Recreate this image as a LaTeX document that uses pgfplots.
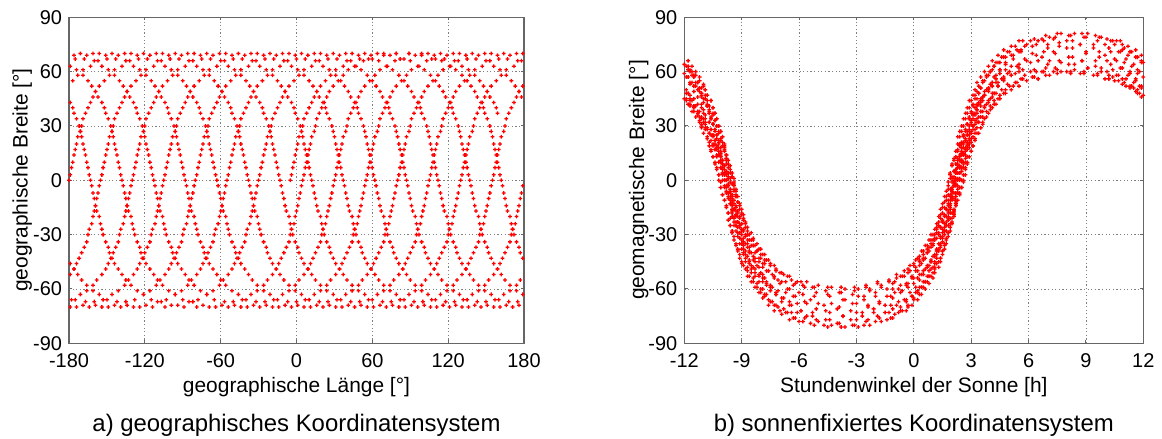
\documentclass[border=0pt]{standalone}
\usepackage{fontspec}
\setmainfont{Liberation Sans}
\usepackage{pgfplots}
\usepackage{pgfplotstable}
\pgfplotsset{compat=1.18}
\definecolor{mred}{RGB}{255,0,0}
\pgfdeclareplotmark{fplus}{%
  \pgfpathrectangle{\pgfpoint{-\pgfplotmarksize}{-0.32bp}}{\pgfpoint{2\pgfplotmarksize}{0.64bp}}%
  \pgfpathrectangle{\pgfpoint{-0.32bp}{-\pgfplotmarksize}}{\pgfpoint{0.64bp}{2\pgfplotmarksize}}%
  \pgfusepathqfill}
\pgfplotstableread{
lo la h m
-5 0 2.2 4
-4 3 2.3 7
-3 7 2.4 11
-2 10 2.5 14
-1 14 2.5 18
0 17 2.6 20
1 20 2.7 23
2 24 2.8 27
4 27 2.9 30
5 30 3 32
6 34 3.1 36
8 37 3.3 39
10 40 3.4 42
12 43 3.5 44
14 46 3.7 47
16 49 3.9 49
19 52 4.1 52
23 55 4.3 54
27 58 4.6 56
31 61 4.9 59
37 63 5.3 59
43 66 5.7 61
50 67 6.3 61
59 69 6.9 62
69 70 7.5 61
79 70 8.2 60
89 70 8.9 60
99 69 9.6 58
107 67 10.2 56
115 66 10.7 55
121 63 11.1 52
126 61 11.5 51
131 58 11.8 48
135 55 -11.9 45
138 52 -11.7 42
141 49 -11.5 40
143 46 -11.3 37
146 43 -11.1 34
148 40 -11 32
149 37 -10.9 29
151 34 -10.7 26
153 30 -10.6 22
154 27 -10.5 19
155 24 -10.4 17
156 20 -10.3 13
157 17 -10.2 10
158 14 -10.1 7
159 10 -10 3
160 7 -10 0
161 3 -9.9 -4
162 0 -9.8 -6
163 -3 -9.7 -9
164 -7 -9.6 -13
165 -10 -9.5 -16
166 -14 -9.5 -20
167 -17 -9.4 -23
169 -20 -9.3 -25
170 -24 -9.2 -29
171 -27 -9.1 -32
172 -30 -9 -35
174 -34 -8.9 -38
176 -37 -8.8 -41
177 -40 -8.6 -44
179 -43 -8.5 -47
-179 -46 -8.3 -49
-176 -49 -8.1 -52
-173 -52 -7.9 -54
-170 -55 -7.7 -57
-166 -58 -7.4 -59
-161 -61 -7.1 -61
-156 -63 -6.7 -62
-150 -66 -6.3 -64
-142 -67 -5.8 -63
-134 -69 -5.2 -64
-124 -70 -4.5 -63
-114 -70 -3.8 -62
-104 -70 -3.1 -61
-94 -69 -2.5 -59
-85 -67 -1.9 -56
-78 -66 -1.3 -55
-71 -63 -0.9 -52
-66 -61 -0.5 -50
-61 -58 -0.2 -47
-58 -55 0.1 -44
-54 -52 0.3 -42
-51 -49 0.5 -39
-49 -46 0.7 -36
-47 -43 0.9 -33
-45 -40 1 -30
-43 -37 1.2 -27
-41 -34 1.3 -25
-40 -30 1.4 -21
-39 -27 1.5 -18
-37 -24 1.6 -15
-36 -20 1.7 -11
-35 -17 1.8 -8
-34 -14 1.9 -5
-33 -10 2 -1
-32 -7 2 1
-31 -3 2.1 5
}\tA
\pgfplotstableread{
lo la h m
-30 0 2.4 8
-29 3 2.5 11
-28 7 2.6 15
-27 10 2.7 18
-26 14 2.7 22
-25 17 2.8 25
-24 20 2.9 27
-23 24 3 31
-21 27 3.1 34
-20 30 3.2 37
-19 34 3.3 41
-17 37 3.5 43
-15 40 3.6 46
-13 43 3.7 49
-11 46 3.9 51
-9 49 4.1 54
-6 52 4.3 56
-2 55 4.5 59
2 58 4.8 61
6 61 5.1 63
12 63 5.5 64
18 66 5.9 66
25 67 6.5 66
34 69 7.1 66
44 70 7.7 65
54 70 8.4 64
64 70 9.1 62
74 69 9.8 60
82 67 10.4 57
90 66 10.9 56
96 63 11.3 52
101 61 11.7 50
106 58 12 47
110 55 -11.7 44
113 52 -11.5 41
116 49 -11.3 38
118 46 -11.1 35
121 43 -10.9 32
123 40 -10.8 29
124 37 -10.7 26
126 34 -10.5 24
128 30 -10.4 20
129 27 -10.3 17
130 24 -10.2 14
131 20 -10.1 10
132 17 -10 7
133 14 -9.9 4
134 10 -9.8 0
135 7 -9.8 -3
136 3 -9.7 -7
137 0 -9.6 -10
138 -3 -9.5 -13
139 -7 -9.4 -16
140 -10 -9.3 -19
141 -14 -9.3 -23
142 -17 -9.2 -26
144 -20 -9.1 -29
145 -24 -9 -33
146 -27 -8.9 -36
147 -30 -8.8 -39
149 -34 -8.7 -42
151 -37 -8.6 -45
152 -40 -8.4 -48
154 -43 -8.3 -51
156 -46 -8.1 -53
159 -49 -7.9 -56
162 -52 -7.7 -58
165 -55 -7.5 -61
169 -58 -7.2 -63
174 -61 -6.9 -65
179 -63 -6.5 -67
-175 -66 -6.1 -68
-167 -67 -5.6 -68
-159 -69 -5 -68
-149 -70 -4.3 -68
-139 -70 -3.6 -66
-129 -70 -2.9 -64
-119 -69 -2.3 -61
-110 -67 -1.7 -58
-103 -66 -1.1 -57
-96 -63 -0.7 -53
-91 -61 -0.3 -51
-86 -58 0 -47
-83 -55 0.3 -44
-79 -52 0.5 -41
-76 -49 0.7 -38
-74 -46 0.9 -35
-72 -43 1.1 -32
-70 -40 1.2 -29
-68 -37 1.4 -26
-66 -34 1.5 -23
-65 -30 1.6 -19
-64 -27 1.7 -16
-62 -24 1.8 -13
-61 -20 1.9 -9
-60 -17 2 -6
-59 -14 2.1 -3
-58 -10 2.2 1
-57 -7 2.2 4
-56 -3 2.3 8
}\tB
\pgfplotstableread{
lo la h m
-55 0 2.1 11
-54 3 2.2 13
-53 7 2.3 17
-52 10 2.4 20
-51 14 2.4 24
-50 17 2.5 27
-49 20 2.6 30
-48 24 2.7 34
-46 27 2.8 37
-45 30 2.9 40
-44 34 3 44
-42 37 3.2 47
-40 40 3.3 49
-38 43 3.4 52
-36 46 3.6 55
-34 49 3.8 58
-31 52 4 60
-27 55 4.2 63
-23 58 4.5 65
-19 61 4.8 68
-13 63 5.2 69
-7 66 5.6 71
0 67 6.2 70
9 69 6.8 71
19 70 7.4 70
29 70 8.1 68
39 70 8.8 66
49 69 9.5 63
57 67 10.1 60
65 66 10.6 58
71 63 11 54
76 61 11.4 52
81 58 11.7 48
85 55 -12 45
88 52 -11.8 42
91 49 -11.6 38
93 46 -11.4 35
96 43 -11.2 32
98 40 -11.1 29
99 37 -11 26
101 34 -10.8 23
103 30 -10.7 19
104 27 -10.6 16
105 24 -10.5 13
106 20 -10.4 9
107 17 -10.3 6
108 14 -10.2 3
109 10 -10.1 -1
110 7 -10.1 -4
111 3 -10 -8
112 0 -9.9 -11
113 -3 -9.8 -14
114 -7 -9.7 -18
115 -10 -9.6 -21
116 -14 -9.6 -25
117 -17 -9.5 -28
119 -20 -9.4 -31
120 -24 -9.3 -35
121 -27 -9.2 -38
122 -30 -9.1 -41
124 -34 -9 -45
126 -37 -8.9 -47
127 -40 -8.7 -50
129 -43 -8.6 -53
131 -46 -8.4 -56
134 -49 -8.2 -59
137 -52 -8 -62
140 -55 -7.8 -64
144 -58 -7.5 -67
149 -61 -7.2 -69
154 -63 -6.8 -71
160 -66 -6.4 -73
168 -67 -5.9 -72
176 -69 -5.3 -73
-174 -70 -4.6 -72
-164 -70 -3.9 -70
-154 -70 -3.2 -68
-144 -69 -2.6 -66
-135 -67 -2 -62
-128 -66 -1.4 -60
-121 -63 -1 -56
-116 -61 -0.6 -53
-111 -58 -0.3 -49
-108 -55 0 -46
-104 -52 0.2 -43
-101 -49 0.4 -39
-99 -46 0.6 -36
-97 -43 0.8 -33
-95 -40 0.9 -30
-93 -37 1.1 -27
-91 -34 1.2 -24
-90 -30 1.3 -20
-89 -27 1.4 -16
-87 -24 1.5 -13
-86 -20 1.6 -9
-85 -17 1.7 -6
-84 -14 1.8 -3
-83 -10 1.9 1
-82 -7 1.9 4
-81 -3 2 8
}\tC
\pgfplotstableread{
lo la h m
-80 0 2.3 11
-79 3 2.4 14
-78 7 2.5 18
-77 10 2.6 21
-76 14 2.6 25
-75 17 2.7 28
-74 20 2.8 31
-73 24 2.9 35
-71 27 3 38
-70 30 3.1 41
-69 34 3.2 45
-67 37 3.4 48
-65 40 3.5 51
-63 43 3.6 54
-61 46 3.8 57
-59 49 4 60
-56 52 4.2 63
-52 55 4.4 65
-48 58 4.7 68
-44 61 5 71
-38 63 5.4 72
-32 66 5.8 74
-25 67 6.4 75
-16 69 7 75
-6 70 7.6 74
4 70 8.3 73
14 70 9 71
24 69 9.7 68
32 67 10.3 64
40 66 10.8 62
46 63 11.2 58
51 61 11.6 55
56 58 11.9 51
60 55 -11.8 48
63 52 -11.6 44
66 49 -11.4 41
68 46 -11.2 38
71 43 -11 34
73 40 -10.9 31
74 37 -10.8 28
76 34 -10.6 25
78 30 -10.5 20
79 27 -10.4 17
80 24 -10.3 14
81 20 -10.2 10
82 17 -10.1 7
83 14 -10 4
84 10 -9.9 0
85 7 -9.9 -3
86 3 -9.8 -7
87 0 -9.7 -10
88 -3 -9.6 -13
89 -7 -9.5 -17
90 -10 -9.4 -20
91 -14 -9.4 -25
92 -17 -9.3 -28
94 -20 -9.2 -31
95 -24 -9.1 -35
96 -27 -9 -38
97 -30 -8.9 -41
99 -34 -8.8 -45
101 -37 -8.7 -48
102 -40 -8.5 -51
104 -43 -8.4 -54
106 -46 -8.2 -57
109 -49 -8 -60
112 -52 -7.8 -63
115 -55 -7.6 -66
119 -58 -7.3 -69
124 -61 -7 -72
129 -63 -6.6 -73
135 -66 -6.2 -76
143 -67 -5.7 -76
151 -69 -5.1 -77
161 -70 -4.4 -77
171 -70 -3.7 -75
-179 -70 -3 -73
-169 -69 -2.4 -70
-160 -67 -1.8 -67
-153 -66 -1.2 -64
-146 -63 -0.8 -60
-141 -61 -0.4 -57
-136 -58 -0.1 -53
-133 -55 0.2 -50
-129 -52 0.4 -46
-126 -49 0.6 -43
-124 -46 0.8 -39
-122 -43 1 -36
-120 -40 1.1 -33
-118 -37 1.3 -29
-116 -34 1.4 -26
-115 -30 1.5 -22
-114 -27 1.6 -19
-112 -24 1.7 -16
-111 -20 1.8 -11
-110 -17 1.9 -8
-109 -14 2 -5
-108 -10 2.1 -1
-107 -7 2.1 2
-106 -3 2.2 6
}\tD
\pgfplotstableread{
lo la h m
-105 0 2 9
-104 3 2.1 12
-103 7 2.2 16
-102 10 2.3 20
-101 14 2.3 24
-100 17 2.4 27
-99 20 2.5 30
-98 24 2.6 34
-96 27 2.7 37
-95 30 2.8 40
-94 34 2.9 44
-92 37 3.1 47
-90 40 3.2 50
-88 43 3.3 54
-86 46 3.5 57
-84 49 3.7 60
-81 52 3.9 63
-77 55 4.1 66
-73 58 4.4 69
-69 61 4.7 72
-63 63 5.1 74
-57 66 5.5 77
-50 67 6.1 77
-41 69 6.7 78
-31 70 7.3 78
-21 70 8 77
-11 70 8.7 75
-1 69 9.4 73
7 67 10 69
15 66 10.5 67
21 63 10.9 62
26 61 11.3 59
31 58 11.6 56
35 55 11.9 52
38 52 -11.9 48
41 49 -11.7 45
43 46 -11.5 41
46 43 -11.3 38
48 40 -11.2 35
49 37 -11.1 31
51 34 -10.9 28
53 30 -10.8 24
54 27 -10.7 21
55 24 -10.6 17
56 20 -10.5 13
57 17 -10.4 10
58 14 -10.3 7
59 10 -10.2 3
60 7 -10.2 0
61 3 -10.1 -4
62 0 -10 -8
63 -3 -9.9 -11
64 -7 -9.8 -15
65 -10 -9.7 -18
66 -14 -9.7 -22
67 -17 -9.6 -25
69 -20 -9.5 -29
70 -24 -9.4 -33
71 -27 -9.3 -36
72 -30 -9.2 -39
74 -34 -9.1 -43
76 -37 -9 -46
77 -40 -8.8 -49
79 -43 -8.7 -53
81 -46 -8.5 -56
84 -49 -8.3 -59
87 -52 -8.1 -62
90 -55 -7.9 -65
94 -58 -7.6 -69
99 -61 -7.3 -72
104 -63 -6.9 -74
110 -66 -6.5 -77
118 -67 -6 -78
126 -69 -5.4 -79
136 -70 -4.7 -80
146 -70 -4 -79
156 -70 -3.3 -77
166 -69 -2.7 -75
175 -67 -2.1 -71
-178 -66 -1.5 -69
-171 -63 -1.1 -65
-166 -61 -0.7 -62
-161 -58 -0.4 -58
-158 -55 -0.1 -54
-154 -52 0.1 -50
-151 -49 0.3 -47
-149 -46 0.5 -44
-147 -43 0.7 -40
-145 -40 0.8 -37
-143 -37 1 -33
-141 -34 1.1 -30
-140 -30 1.2 -26
-139 -27 1.3 -23
-137 -24 1.4 -19
-136 -20 1.5 -15
-135 -17 1.6 -12
-134 -14 1.7 -9
-133 -10 1.8 -5
-132 -7 1.8 -1
-131 -3 1.9 3
}\tE
\pgfplotstableread{
lo la h m
-130 0 2.2 6
-129 3 2.3 9
-128 7 2.4 13
-127 10 2.5 16
-126 14 2.5 20
-125 17 2.6 24
-124 20 2.7 27
-123 24 2.8 31
-121 27 2.9 34
-120 30 3 37
-119 34 3.1 42
-117 37 3.3 45
-115 40 3.4 48
-113 43 3.5 51
-111 46 3.7 55
-109 49 3.9 58
-106 52 4.1 61
-102 55 4.3 65
-98 58 4.6 68
-94 61 4.9 71
-88 63 5.3 74
-82 66 5.7 77
-75 67 6.3 78
-66 69 6.9 80
-56 70 7.5 81
-46 70 8.2 80
-36 70 8.9 79
-26 69 9.6 77
-18 67 10.2 73
-10 66 10.7 71
-4 63 11.1 67
1 61 11.5 64
6 58 11.8 60
10 55 -11.9 57
13 52 -11.7 53
16 49 -11.5 49
18 46 -11.3 46
21 43 -11.1 42
23 40 -11 39
24 37 -10.9 36
26 34 -10.7 32
28 30 -10.6 28
29 27 -10.5 25
30 24 -10.4 22
31 20 -10.3 18
32 17 -10.2 14
33 14 -10.1 11
34 10 -10 7
35 7 -10 4
36 3 -9.9 0
37 0 -9.8 -4
38 -3 -9.7 -7
39 -7 -9.6 -11
40 -10 -9.5 -14
41 -14 -9.5 -18
42 -17 -9.4 -21
44 -20 -9.3 -25
45 -24 -9.2 -29
46 -27 -9.1 -32
47 -30 -9 -35
49 -34 -8.9 -40
51 -37 -8.8 -43
52 -40 -8.6 -46
54 -43 -8.5 -49
56 -46 -8.3 -53
59 -49 -8.1 -56
62 -52 -7.9 -60
65 -55 -7.7 -63
69 -58 -7.4 -67
74 -61 -7.1 -70
79 -63 -6.7 -73
85 -66 -6.3 -76
93 -67 -5.8 -78
101 -69 -5.2 -80
111 -70 -4.5 -81
121 -70 -3.8 -81
131 -70 -3.1 -80
141 -69 -2.5 -78
150 -67 -1.9 -75
157 -66 -1.3 -73
164 -63 -0.9 -69
169 -61 -0.5 -66
174 -58 -0.2 -62
177 -55 0.1 -59
-179 -52 0.3 -55
-176 -49 0.5 -52
-174 -46 0.7 -48
-172 -43 0.9 -45
-170 -40 1 -42
-168 -37 1.2 -38
-166 -34 1.3 -35
-165 -30 1.4 -31
-164 -27 1.5 -27
-162 -24 1.6 -24
-161 -20 1.7 -20
-160 -17 1.8 -17
-159 -14 1.9 -13
-158 -10 2 -9
-157 -7 2 -6
-156 -3 2.1 -2
}\tF
\pgfplotstableread{
lo la h m
-155 0 2.4 1
-154 3 2.5 5
-153 7 2.6 9
-152 10 2.7 12
-151 14 2.7 16
-150 17 2.8 19
-149 20 2.9 22
-148 24 3 27
-146 27 3.1 30
-145 30 3.2 33
-144 34 3.3 37
-142 37 3.5 41
-140 40 3.6 44
-138 43 3.7 47
-136 46 3.9 51
-134 49 4.1 54
-131 52 4.3 58
-127 55 4.5 61
-123 58 4.8 65
-119 61 5.1 69
-113 63 5.5 71
-107 66 5.9 75
-100 67 6.5 77
-91 69 7.1 79
-81 70 7.7 81
-71 70 8.4 81
-61 70 9.1 81
-51 69 9.8 79
-43 67 10.4 77
-35 66 10.9 75
-29 63 11.3 71
-24 61 11.7 68
-19 58 12 65
-15 55 -11.7 61
-12 52 -11.5 58
-9 49 -11.3 54
-7 46 -11.1 51
-4 43 -10.9 47
-2 40 -10.8 44
-1 37 -10.7 41
1 34 -10.5 37
3 30 -10.4 33
4 27 -10.3 30
5 24 -10.2 26
6 20 -10.1 22
7 17 -10 19
8 14 -9.9 16
9 10 -9.8 12
10 7 -9.8 9
11 3 -9.7 4
12 0 -9.6 1
13 -3 -9.5 -2
14 -7 -9.4 -6
15 -10 -9.3 -9
16 -14 -9.3 -14
17 -17 -9.2 -17
19 -20 -9.1 -20
20 -24 -9 -24
21 -27 -8.9 -28
22 -30 -8.8 -31
24 -34 -8.7 -35
26 -37 -8.6 -39
27 -40 -8.4 -42
29 -43 -8.3 -45
31 -46 -8.1 -48
34 -49 -7.9 -52
37 -52 -7.7 -56
40 -55 -7.5 -59
44 -58 -7.2 -63
49 -61 -6.9 -67
54 -63 -6.5 -69
60 -66 -6.1 -73
68 -67 -5.6 -75
76 -69 -5 -78
86 -70 -4.3 -80
96 -70 -3.6 -81
106 -70 -2.9 -81
116 -69 -2.3 -80
125 -67 -1.7 -78
132 -66 -1.1 -76
139 -63 -0.7 -72
144 -61 -0.3 -70
149 -58 0 -66
152 -55 0.3 -63
156 -52 0.5 -59
159 -49 0.7 -56
161 -46 0.9 -53
163 -43 1.1 -49
165 -40 1.2 -46
167 -37 1.4 -43
169 -34 1.5 -39
170 -30 1.6 -35
171 -27 1.7 -32
173 -24 1.8 -29
174 -20 1.9 -24
175 -17 2 -21
176 -14 2.1 -18
177 -10 2.2 -14
178 -7 2.2 -11
179 -3 2.3 -7
}\tG
\pgfplotstableread{
lo la h m
-180 0 2.1 -3
-179 3 2.2 0
-178 7 2.3 4
-177 10 2.4 7
-176 14 2.4 11
-175 17 2.5 15
-174 20 2.6 18
-173 24 2.7 22
-171 27 2.8 25
-170 30 2.9 28
-169 34 3 33
-167 37 3.2 36
-165 40 3.3 39
-163 43 3.4 43
-161 46 3.6 46
-159 49 3.8 50
-156 52 4 53
-152 55 4.2 57
-148 58 4.5 61
-144 61 4.8 64
-138 63 5.2 67
-132 66 5.6 72
-125 67 6.2 74
-116 69 6.8 77
-106 70 7.4 79
-96 70 8.1 80
-86 70 8.8 81
-76 69 9.5 80
-68 67 10.1 78
-60 66 10.6 77
-54 63 11 73
-49 61 11.4 71
-44 58 11.7 68
-40 55 -12 64
-37 52 -11.8 61
-34 49 -11.6 58
-32 46 -11.4 54
-29 43 -11.2 51
-27 40 -11.1 48
-26 37 -11 45
-24 34 -10.8 41
-22 30 -10.7 37
-21 27 -10.6 34
-20 24 -10.5 31
-19 20 -10.4 27
-18 17 -10.3 23
-17 14 -10.2 20
-16 10 -10.1 16
-15 7 -10.1 13
-14 3 -10 9
-13 0 -9.9 6
-12 -3 -9.8 3
-11 -7 -9.7 -2
-10 -10 -9.6 -5
-9 -14 -9.6 -9
-8 -17 -9.5 -12
-6 -20 -9.4 -16
-5 -24 -9.3 -20
-4 -27 -9.2 -23
-3 -30 -9.1 -26
-1 -34 -9 -30
1 -37 -8.9 -34
2 -40 -8.7 -37
4 -43 -8.6 -40
6 -46 -8.4 -44
9 -49 -8.2 -47
12 -52 -8 -51
15 -55 -7.8 -54
19 -58 -7.5 -58
24 -61 -7.2 -62
29 -63 -6.8 -65
35 -66 -6.4 -69
43 -67 -5.9 -72
51 -69 -5.3 -75
61 -70 -4.6 -77
71 -70 -3.9 -79
81 -70 -3.2 -80
91 -69 -2.6 -80
100 -67 -2 -78
107 -66 -1.4 -77
114 -63 -1 -74
119 -61 -0.6 -72
124 -58 -0.3 -69
127 -55 0 -65
131 -52 0.2 -62
134 -49 0.4 -59
136 -46 0.6 -56
138 -43 0.8 -53
140 -40 0.9 -49
142 -37 1.1 -46
144 -34 1.2 -43
145 -30 1.3 -39
146 -27 1.4 -36
148 -24 1.5 -32
149 -20 1.6 -28
150 -17 1.7 -25
151 -14 1.8 -22
152 -10 1.9 -18
153 -7 1.9 -15
154 -3 2 -11
}\tH
\pgfplotstableread{
lo la h m
155 0 2.3 -7
156 3 2.4 -4
157 7 2.5 0
158 10 2.6 3
159 14 2.6 7
160 17 2.7 10
161 20 2.8 13
162 24 2.9 18
164 27 3 21
165 30 3.1 24
166 34 3.2 28
168 37 3.4 32
170 40 3.5 35
172 43 3.6 38
174 46 3.8 42
176 49 4 45
179 52 4.2 48
-177 55 4.4 52
-173 58 4.7 56
-169 61 5 60
-163 63 5.4 63
-157 66 5.8 67
-150 67 6.4 69
-141 69 7 73
-131 70 7.6 76
-121 70 8.3 77
-111 70 9 79
-101 69 9.7 79
-93 67 10.3 77
-85 66 10.8 77
-79 63 11.2 74
-74 61 11.6 72
-69 58 11.9 69
-65 55 -11.8 66
-62 52 -11.6 63
-59 49 -11.4 60
-57 46 -11.2 57
-54 43 -11 53
-52 40 -10.9 50
-51 37 -10.8 47
-49 34 -10.6 44
-47 30 -10.5 40
-46 27 -10.4 37
-45 24 -10.3 34
-44 20 -10.2 30
-43 17 -10.1 27
-42 14 -10 24
-41 10 -9.9 19
-40 7 -9.9 16
-39 3 -9.8 12
-38 0 -9.7 9
-37 -3 -9.6 6
-36 -7 -9.5 2
-35 -10 -9.4 -1
-34 -14 -9.4 -5
-33 -17 -9.3 -8
-31 -20 -9.2 -12
-30 -24 -9.1 -16
-29 -27 -9 -19
-28 -30 -8.9 -22
-26 -34 -8.8 -26
-24 -37 -8.7 -30
-23 -40 -8.5 -33
-21 -43 -8.4 -36
-19 -46 -8.2 -39
-16 -49 -8 -43
-13 -52 -7.8 -46
-10 -55 -7.6 -50
-6 -58 -7.3 -54
-1 -61 -7 -57
4 -63 -6.6 -60
10 -66 -6.2 -64
18 -67 -5.7 -67
26 -69 -5.1 -71
36 -70 -4.4 -73
46 -70 -3.7 -75
56 -70 -3 -77
66 -69 -2.4 -77
75 -67 -1.8 -76
82 -66 -1.2 -76
89 -63 -0.8 -73
94 -61 -0.4 -72
99 -58 -0.1 -69
102 -55 0.2 -66
106 -52 0.4 -63
109 -49 0.6 -60
111 -46 0.8 -57
113 -43 1 -54
115 -40 1.1 -51
117 -37 1.3 -48
119 -34 1.4 -45
120 -30 1.5 -41
121 -27 1.6 -38
123 -24 1.7 -35
124 -20 1.8 -31
125 -17 1.9 -28
126 -14 2 -24
127 -10 2.1 -20
128 -7 2.1 -17
129 -3 2.2 -13
}\tI
\pgfplotstableread{
lo la h m
130 0 2 -10
131 3 2.1 -7
132 7 2.2 -3
133 10 2.3 0
134 14 2.3 4
135 17 2.4 7
136 20 2.5 10
137 24 2.6 14
139 27 2.7 18
140 30 2.8 21
141 34 2.9 25
143 37 3.1 28
145 40 3.2 31
147 43 3.3 34
149 46 3.5 38
151 49 3.7 41
154 52 3.9 44
158 55 4.1 48
162 58 4.4 52
166 61 4.7 55
172 63 5.1 58
178 66 5.5 62
-175 67 6.1 65
-166 69 6.7 68
-156 70 7.3 71
-146 70 8 73
-136 70 8.7 75
-126 69 9.4 75
-118 67 10 75
-110 66 10.5 75
-104 63 10.9 72
-99 61 11.3 71
-94 58 11.6 68
-90 55 11.9 65
-87 52 -11.9 63
-84 49 -11.7 60
-82 46 -11.5 57
-79 43 -11.3 54
-77 40 -11.2 51
-76 37 -11.1 48
-74 34 -10.9 45
-72 30 -10.8 41
-71 27 -10.7 38
-70 24 -10.6 35
-69 20 -10.5 31
-68 17 -10.4 28
-67 14 -10.3 25
-66 10 -10.2 21
-65 7 -10.2 18
-64 3 -10.1 14
-63 0 -10 11
-62 -3 -9.9 8
-61 -7 -9.8 4
-60 -10 -9.7 1
-59 -14 -9.7 -3
-58 -17 -9.6 -6
-56 -20 -9.5 -9
-55 -24 -9.4 -13
-54 -27 -9.3 -17
-53 -30 -9.2 -20
-51 -34 -9.1 -24
-49 -37 -9 -27
-48 -40 -8.8 -30
-46 -43 -8.7 -33
-44 -46 -8.5 -36
-41 -49 -8.3 -40
-38 -52 -8.1 -43
-35 -55 -7.9 -46
-31 -58 -7.6 -50
-26 -61 -7.3 -53
-21 -63 -6.9 -56
-15 -66 -6.5 -60
-7 -67 -6 -62
1 -69 -5.4 -66
11 -70 -4.7 -69
21 -70 -4 -71
31 -70 -3.3 -72
41 -69 -2.7 -73
50 -67 -2.1 -73
57 -66 -1.5 -73
64 -63 -1.1 -71
69 -61 -0.7 -70
74 -58 -0.4 -67
77 -55 -0.1 -64
81 -52 0.1 -62
84 -49 0.3 -59
86 -46 0.5 -56
88 -43 0.7 -53
90 -40 0.8 -50
92 -37 1 -48
94 -34 1.1 -45
95 -30 1.2 -41
96 -27 1.3 -38
98 -24 1.4 -35
99 -20 1.5 -31
100 -17 1.6 -28
101 -14 1.7 -25
102 -10 1.8 -21
103 -7 1.8 -18
104 -3 1.9 -14
}\tJ
\pgfplotstableread{
lo la h m
105 0 2.3 -11
106 3 2.4 -8
107 7 2.5 -4
108 10 2.6 -1
109 14 2.6 3
110 17 2.7 6
111 20 2.8 9
112 24 2.9 13
114 27 3 16
115 30 3.1 19
116 34 3.2 23
118 37 3.4 26
120 40 3.5 29
122 43 3.6 32
124 46 3.8 35
126 49 4 39
129 52 4.2 42
133 55 4.4 45
137 58 4.7 48
141 61 5 52
147 63 5.4 54
153 66 5.8 58
160 67 6.4 60
169 69 7 64
179 70 7.6 66
-171 70 8.3 68
-161 70 9 70
-151 69 9.7 71
-143 67 10.3 71
-135 66 10.8 71
-129 63 11.2 69
-124 61 11.6 68
-119 58 11.9 66
-115 55 -11.8 63
-112 52 -11.6 60
-109 49 -11.4 58
-107 46 -11.2 55
-104 43 -11 52
-102 40 -10.9 50
-101 37 -10.8 47
-99 34 -10.6 44
-97 30 -10.5 40
-96 27 -10.4 37
-95 24 -10.3 34
-94 20 -10.2 30
-93 17 -10.1 27
-92 14 -10 24
-91 10 -9.9 20
-90 7 -9.9 17
-89 3 -9.8 14
-88 0 -9.7 11
-87 -3 -9.6 8
-86 -7 -9.5 4
-85 -10 -9.4 1
-84 -14 -9.4 -3
-83 -17 -9.3 -6
-81 -20 -9.2 -9
-80 -24 -9.1 -13
-79 -27 -9 -16
-78 -30 -8.9 -19
-76 -34 -8.8 -23
-74 -37 -8.7 -26
-73 -40 -8.5 -29
-71 -43 -8.4 -32
-69 -46 -8.2 -35
-66 -49 -8 -38
-63 -52 -7.8 -41
-60 -55 -7.6 -44
-56 -58 -7.3 -47
-51 -61 -7 -51
-46 -63 -6.6 -53
-40 -66 -6.2 -57
-32 -67 -5.7 -59
-24 -69 -5.1 -62
-14 -70 -4.4 -64
-4 -70 -3.7 -66
6 -70 -3 -68
16 -69 -2.4 -69
25 -67 -1.8 -68
32 -66 -1.2 -69
39 -63 -0.8 -67
44 -61 -0.4 -66
49 -58 -0.1 -64
52 -55 0.2 -61
56 -52 0.4 -59
59 -49 0.6 -56
61 -46 0.8 -53
63 -43 1 -51
65 -40 1.1 -48
67 -37 1.3 -45
69 -34 1.4 -43
70 -30 1.5 -39
71 -27 1.6 -36
73 -24 1.7 -33
74 -20 1.8 -29
75 -17 1.9 -26
76 -14 2 -23
77 -10 2.1 -19
78 -7 2.1 -17
79 -3 2.2 -13
}\tK
\pgfplotstableread{
lo la h m
80 0 2.1 -10
81 3 2.2 -7
82 7 2.3 -3
83 10 2.4 0
84 14 2.4 4
85 17 2.5 7
86 20 2.6 10
87 24 2.7 14
89 27 2.8 17
90 30 2.9 20
91 34 3 23
93 37 3.2 26
95 40 3.3 29
97 43 3.4 32
99 46 3.6 35
101 49 3.8 38
104 52 4 41
108 55 4.2 44
112 58 4.5 47
116 61 4.8 50
122 63 5.2 52
128 66 5.6 56
135 67 6.2 57
144 69 6.8 60
154 70 7.4 62
164 70 8.1 64
174 70 8.8 66
-176 69 9.5 66
-168 67 10.1 66
-160 66 10.6 66
-154 63 11 65
-149 61 11.4 63
-144 58 11.7 61
-140 55 -12 59
-137 52 -11.8 57
-134 49 -11.6 54
-132 46 -11.4 52
-129 43 -11.2 49
-127 40 -11.1 46
-126 37 -11 43
-124 34 -10.8 41
-122 30 -10.7 37
-121 27 -10.6 34
-120 24 -10.5 31
-119 20 -10.4 28
-118 17 -10.3 25
-117 14 -10.2 22
-116 10 -10.1 18
-115 7 -10.1 15
-114 3 -10 11
-113 0 -9.9 8
-112 -3 -9.8 5
-111 -7 -9.7 2
-110 -10 -9.6 -1
-109 -14 -9.6 -5
-108 -17 -9.5 -8
-106 -20 -9.4 -11
-105 -24 -9.3 -15
-104 -27 -9.2 -18
-103 -30 -9.1 -21
-101 -34 -9 -24
-99 -37 -8.9 -27
-98 -40 -8.7 -30
-96 -43 -8.6 -33
-94 -46 -8.4 -36
-91 -49 -8.2 -39
-88 -52 -8 -41
-85 -55 -7.8 -44
-81 -58 -7.5 -47
-76 -61 -7.2 -50
-71 -63 -6.8 -52
-65 -66 -6.4 -55
-57 -67 -5.9 -56
-49 -69 -5.3 -59
-39 -70 -4.6 -61
-29 -70 -3.9 -62
-19 -70 -3.2 -63
-9 -69 -2.6 -64
0 -67 -2 -64
7 -66 -1.4 -64
14 -63 -1 -62
19 -61 -0.6 -61
24 -58 -0.3 -59
27 -55 0 -57
31 -52 0.2 -54
34 -49 0.4 -52
36 -46 0.6 -49
38 -43 0.8 -47
40 -40 0.9 -44
42 -37 1.1 -41
44 -34 1.2 -39
45 -30 1.3 -35
46 -27 1.4 -32
48 -24 1.5 -29
49 -20 1.6 -26
50 -17 1.7 -23
51 -14 1.8 -20
52 -10 1.9 -16
53 -7 1.9 -13
54 -3 2 -9
}\tL
\pgfplotstableread{
lo la h m
55 0 2.4 -7
56 3 2.5 -4
57 7 2.6 0
58 10 2.7 3
59 14 2.7 7
60 17 2.8 10
61 20 2.9 13
62 24 3 16
64 27 3.1 19
65 30 3.2 22
66 34 3.3 26
68 37 3.5 29
70 40 3.6 31
72 43 3.7 34
74 46 3.9 37
76 49 4.1 40
79 52 4.3 42
83 55 4.5 45
87 58 4.8 48
91 61 5.1 50
97 63 5.5 52
103 66 5.9 55
110 67 6.5 56
119 69 7.1 58
129 70 7.7 60
139 70 8.4 61
149 70 9.1 62
159 69 9.8 62
167 67 10.4 61
175 66 10.9 62
-179 63 11.3 60
-174 61 11.7 59
-169 58 12 57
-165 55 -11.7 54
-162 52 -11.5 52
-159 49 -11.3 50
-157 46 -11.1 47
-154 43 -10.9 45
-152 40 -10.8 42
-151 37 -10.7 39
-149 34 -10.5 36
-147 30 -10.4 33
-146 27 -10.3 30
-145 24 -10.2 27
-144 20 -10.1 23
-143 17 -10 21
-142 14 -9.9 18
-141 10 -9.8 14
-140 7 -9.8 11
-139 3 -9.7 7
-138 0 -9.6 4
-137 -3 -9.5 2
-136 -7 -9.4 -2
-135 -10 -9.3 -5
-134 -14 -9.3 -9
-133 -17 -9.2 -12
-131 -20 -9.1 -14
-130 -24 -9 -18
-129 -27 -8.9 -21
-128 -30 -8.8 -24
-126 -34 -8.7 -28
-124 -37 -8.6 -30
-123 -40 -8.4 -33
-121 -43 -8.3 -36
-119 -46 -8.1 -38
-116 -49 -7.9 -41
-113 -52 -7.7 -44
-110 -55 -7.5 -46
-106 -58 -7.2 -49
-101 -61 -6.9 -51
-96 -63 -6.5 -53
-90 -66 -6.1 -56
-82 -67 -5.6 -56
-74 -69 -5 -58
-64 -70 -4.3 -59
-54 -70 -3.6 -60
-44 -70 -2.9 -60
-34 -69 -2.3 -60
-25 -67 -1.7 -59
-18 -66 -1.1 -60
-11 -63 -0.7 -58
-6 -61 -0.3 -57
-1 -58 0 -54
2 -55 0.3 -52
6 -52 0.5 -50
9 -49 0.7 -47
11 -46 0.9 -45
13 -43 1.1 -42
15 -40 1.2 -39
17 -37 1.4 -37
19 -34 1.5 -34
20 -30 1.6 -30
21 -27 1.7 -28
23 -24 1.8 -25
24 -20 1.9 -21
25 -17 2 -18
26 -14 2.1 -16
27 -10 2.2 -12
28 -7 2.2 -9
29 -3 2.3 -5
}\tM
\pgfplotstableread{
lo la h m
30 0 2.2 -2
31 3 2.3 1
32 7 2.4 4
33 10 2.5 7
34 14 2.5 11
35 17 2.6 14
36 20 2.7 17
37 24 2.8 20
39 27 2.9 23
40 30 3 26
41 34 3.1 30
43 37 3.3 32
45 40 3.4 35
47 43 3.5 38
49 46 3.7 40
51 49 3.9 43
54 52 4.1 46
58 55 4.3 48
62 58 4.6 50
66 61 4.9 53
72 63 5.3 54
78 66 5.7 56
85 67 6.3 57
94 69 6.9 58
104 70 7.5 59
114 70 8.2 59
124 70 8.9 59
134 69 9.6 59
142 67 10.2 58
150 66 10.7 58
156 63 11.1 56
161 61 11.5 54
166 58 11.8 52
170 55 -11.9 50
173 52 -11.7 47
176 49 -11.5 45
178 46 -11.3 42
-179 43 -11.1 40
-177 40 -11 37
-176 37 -10.9 34
-174 34 -10.7 32
-172 30 -10.6 28
-171 27 -10.5 25
-170 24 -10.4 22
-169 20 -10.3 19
-168 17 -10.2 16
-167 14 -10.1 13
-166 10 -10 9
-165 7 -10 6
-164 3 -9.9 3
-163 0 -9.8 0
-162 -3 -9.7 -3
-161 -7 -9.6 -7
-160 -10 -9.5 -10
-159 -14 -9.5 -13
-158 -17 -9.4 -16
-156 -20 -9.3 -19
-155 -24 -9.2 -23
-154 -27 -9.1 -25
-153 -30 -9 -28
-151 -34 -8.9 -32
-149 -37 -8.8 -35
-148 -40 -8.6 -37
-146 -43 -8.5 -40
-144 -46 -8.3 -43
-141 -49 -8.1 -45
-138 -52 -7.9 -48
-135 -55 -7.7 -50
-131 -58 -7.4 -52
-126 -61 -7.1 -55
-121 -63 -6.7 -56
-115 -66 -6.3 -58
-107 -67 -5.8 -58
-99 -69 -5.2 -59
-89 -70 -4.5 -59
-79 -70 -3.8 -59
-69 -70 -3.1 -59
-59 -69 -2.5 -58
-50 -67 -1.9 -57
-43 -66 -1.3 -56
-36 -63 -0.9 -54
-31 -61 -0.5 -53
-26 -58 -0.2 -50
-23 -55 0.1 -48
-19 -52 0.3 -45
-16 -49 0.5 -43
-14 -46 0.7 -40
-12 -43 0.9 -37
-10 -40 1 -35
-8 -37 1.2 -32
-6 -34 1.3 -30
-5 -30 1.4 -26
-4 -27 1.5 -23
-2 -24 1.6 -20
-1 -20 1.7 -16
0 -17 1.8 -14
1 -14 1.9 -11
2 -10 2 -7
3 -7 2 -4
4 -3 2.1 0
}\tN
\pgfplotstableread{
lo la h m
5 0 2 2
6 3 2.1 5
7 7 2.2 9
8 10 2.3 12
9 14 2.3 16
10 17 2.4 19
11 20 2.5 21
12 24 2.6 25
14 27 2.7 28
15 30 2.8 31
16 34 2.9 34
18 37 3.1 37
20 40 3.2 40
22 43 3.3 42
24 46 3.5 45
26 49 3.7 47
29 52 3.9 50
33 55 4.1 52
37 58 4.4 54
41 61 4.7 57
47 63 5.1 58
53 66 5.5 60
60 67 6.1 60
69 69 6.7 60
79 70 7.3 60
89 70 8 60
99 70 8.7 59
109 69 9.4 58
117 67 10 56
125 66 10.5 55
131 63 10.9 53
136 61 11.3 51
141 58 11.6 49
145 55 11.9 46
148 52 -11.9 44
151 49 -11.7 41
153 46 -11.5 38
156 43 -11.3 36
158 40 -11.2 33
159 37 -11.1 30
}\tO
\pgfplotsset{
  myax/.style={
    scale only axis, anchor=south west,
    height=163bp,
    ymin=-90, ymax=90,
    ytick={-90,-60,-30,0,30,60,90},
    yticklabels={-90,-60,-30,0,30,60,90},
    grid=major,
    major grid style={draw=black!50, line width=0.4bp, dash pattern=on 0.6bp off 1.2bp},
    axis line style={draw=black!60, line width=0.6bp},
    tick style={draw=black!60, line width=0.5bp},
    tick align=inside,
    major tick length=1.6bp,
    ticklabel style={font=\fontsize{10}{12}\selectfont},
    xticklabel style={yshift=-1.4bp},
  },
  mypts/.style={only marks, mark=fplus, mark size=0.95bp, color=mred,
    mark options={draw=none, fill=mred}},
}
\begin{document}
\begin{tikzpicture}
\path[use as bounding box] (0,0) rectangle (581bp,219.5bp);
\begin{axis}[myax, at={(34.5bp,47.85bp)}, width=227.5bp,
  xmin=-180, xmax=180,
  xtick={-180,-120,-60,0,60,120,180},
  xticklabels={-180,-120,-60,0,60,120,180}]
\addplot[mypts] table[x=lo,y=la]{\tA};
\addplot[mypts] table[x=lo,y=la]{\tB};
\addplot[mypts] table[x=lo,y=la]{\tC};
\addplot[mypts] table[x=lo,y=la]{\tD};
\addplot[mypts] table[x=lo,y=la]{\tE};
\addplot[mypts] table[x=lo,y=la]{\tF};
\addplot[mypts] table[x=lo,y=la]{\tG};
\addplot[mypts] table[x=lo,y=la]{\tH};
\addplot[mypts] table[x=lo,y=la]{\tI};
\addplot[mypts] table[x=lo,y=la]{\tJ};
\addplot[mypts] table[x=lo,y=la]{\tK};
\addplot[mypts] table[x=lo,y=la]{\tL};
\addplot[mypts] table[x=lo,y=la]{\tM};
\addplot[mypts] table[x=lo,y=la]{\tN};
\addplot[mypts] table[x=lo,y=la]{\tO};
\end{axis}
\begin{axis}[myax, at={(342.15bp,47.85bp)}, width=229.5bp,
  xmin=-12, xmax=12,
  xtick={-12,-9,-6,-3,0,3,6,9,12},
  xticklabels={-12,-9,-6,-3,0,3,6,9,12}]
\addplot[mypts] table[x=h,y=m]{\tA};
\addplot[mypts] table[x=h,y=m]{\tB};
\addplot[mypts] table[x=h,y=m]{\tC};
\addplot[mypts] table[x=h,y=m]{\tD};
\addplot[mypts] table[x=h,y=m]{\tE};
\addplot[mypts] table[x=h,y=m]{\tF};
\addplot[mypts] table[x=h,y=m]{\tG};
\addplot[mypts] table[x=h,y=m]{\tH};
\addplot[mypts] table[x=h,y=m]{\tI};
\addplot[mypts] table[x=h,y=m]{\tJ};
\addplot[mypts] table[x=h,y=m]{\tK};
\addplot[mypts] table[x=h,y=m]{\tL};
\addplot[mypts] table[x=h,y=m]{\tM};
\addplot[mypts] table[x=h,y=m]{\tN};
\addplot[mypts] table[x=h,y=m]{\tO};
\end{axis}
\node[anchor=base, font=\fontsize{10.5}{12}\selectfont] at (148.25bp,23.25bp) {geographische Länge [°]};
\node[anchor=base, font=\fontsize{10.5}{12}\selectfont] at (456.9bp,23.25bp) {Stundenwinkel der Sonne [h]};
\node[anchor=base, font=\fontsize{12}{14}\selectfont] at (148.25bp,3.65bp) {a) geographisches Koordinatensystem};
\node[anchor=base, font=\fontsize{12}{14}\selectfont] at (456.9bp,3.65bp) {b) sonnenfixiertes Koordinatensystem};
\node[rotate=90, anchor=base, font=\fontsize{10.5}{12}\selectfont] at (13.75bp,129.5bp) {geographische Breite [°]};
\node[rotate=90, anchor=base, font=\fontsize{10.5}{12}\selectfont] at (322bp,129.5bp) {geomagnetische Breite [°]};
\end{tikzpicture}
\end{document}
